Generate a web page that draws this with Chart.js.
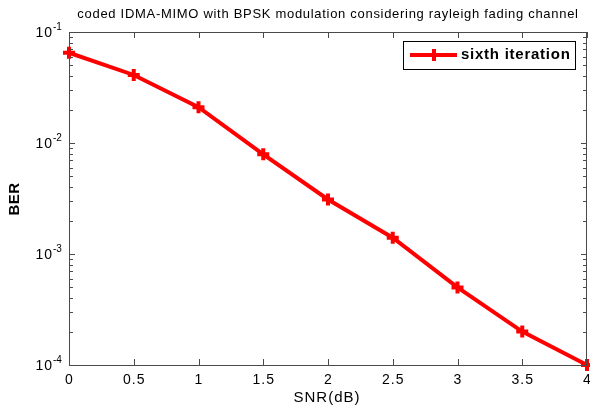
<!DOCTYPE html>
<html>
<head>
<meta charset="utf-8">
<script src="https://cdn.jsdelivr.net/npm/chart.js@4"></script>
<style>
  html, body { margin: 0; padding: 0; background: #fff; overflow: hidden; }
  canvas { display: block; }
</style>
</head>
<body>
<canvas id="berChart" width="590" height="411"></canvas>
<script>
// data
const snrValues = [0, 0.5, 1, 1.5, 2, 2.5, 3, 3.5, 4];
const berSixth = [0.065, 0.041, 0.021, 0.0079, 0.0031, 0.0014, 0.0005, 0.0002, 0.0001];
const xTicks = [0, 0.5, 1, 1.5, 2, 2.5, 3, 3.5, 4];
const xTickLabels = ['0', '0.5', '1', '1.5', '2', '2.5', '3', '3.5', '4'];
const yDecades = [-1, -2, -3, -4];

const TITLE = 'coded IDMA-MIMO with BPSK modulation considering rayleigh fading channel';
const AXIS_COLOR = '#4a4a4a';
const FONT = '"Liberation Sans", Arial, sans-serif';

// box, inward ticks, labels, titles and legend drawn matlab-style
const matlabAxes = {
    id: 'matlabAxes',
    afterDatasetsDraw(chart) {
        const ctx = chart.ctx;
        const area = chart.chartArea;
        const xs = chart.scales.x;
        const ys = chart.scales.y;
        ctx.save();

        // box
        ctx.strokeStyle = AXIS_COLOR;
        ctx.lineWidth = 1;
        ctx.strokeRect(area.left + 0.5, area.top + 0.5, area.right - area.left - 1, area.bottom - area.top);

        // x ticks bottom and top
        ctx.beginPath();
        xTicks.forEach(v => {
            const px = Math.round(xs.getPixelForValue(v)) + 0.5;
            ctx.moveTo(px, area.bottom);
            ctx.lineTo(px, area.bottom - 6);
            ctx.moveTo(px, area.top);
            ctx.lineTo(px, area.top + 6);
        });
        // y ticks left and right (log minors)
        for (let e = -4; e <= -1; e++) {
            for (let m = 1; m <= 9; m++) {
                const v = m * Math.pow(10, e);
                if (v > 0.1 + 1e-12) continue;
                const py = Math.round(ys.getPixelForValue(v)) + 0.5;
                const len = m === 1 ? 6 : 4;
                ctx.moveTo(area.left, py);
                ctx.lineTo(area.left + len, py);
                ctx.moveTo(area.right, py);
                ctx.lineTo(area.right - len, py);
            }
        }
        ctx.stroke();

        ctx.fillStyle = '#000';
        ctx.textBaseline = 'middle';

        // x tick labels
        ctx.font = '14px ' + FONT;
        ctx.letterSpacing = '1px';
        ctx.textAlign = 'center';
        xTicks.forEach((v, i) => {
            ctx.fillText(xTickLabels[i], xs.getPixelForValue(v) + 0.5, area.bottom + 15);
        });

        // y labels 10^n
        yDecades.forEach(e => {
            const py = ys.getPixelForValue(Math.pow(10, e));
            ctx.font = '14px ' + FONT;
            ctx.letterSpacing = '1px';
            ctx.textAlign = 'right';
            ctx.fillText('10', 53, py + 1);
            ctx.font = '10px ' + FONT;
            ctx.letterSpacing = '0px';
            ctx.textAlign = 'left';
            ctx.fillText(String(e), 53, py - 5);
        });

        // titles
        ctx.font = '13px ' + FONT;
        ctx.letterSpacing = '0.7px';
        ctx.textAlign = 'center';
        ctx.fillText(TITLE, 328, 14);

        ctx.font = '15px ' + FONT;
        ctx.letterSpacing = '1px';
        ctx.fillText('SNR(dB)', 327, 398);

        ctx.save();
        ctx.translate(15, 199);
        ctx.rotate(-Math.PI / 2);
        ctx.font = 'bold 15px ' + FONT;
        ctx.letterSpacing = '0.5px';
        ctx.fillText('BER', 0, 0);
        ctx.restore();

        // legend inside the axes
        const bx = 403, by = 41, bw = 172, bh = 28;
        ctx.fillStyle = '#fff';
        ctx.fillRect(bx, by, bw, bh);
        ctx.strokeStyle = '#000';
        ctx.lineWidth = 1;
        ctx.strokeRect(bx + 0.5, by + 0.5, bw, bh);
        const ly = by + bh / 2;
        ctx.strokeStyle = '#ff0000';
        ctx.lineWidth = 4;
        ctx.beginPath();
        ctx.moveTo(410, ly);
        ctx.lineTo(457, ly);
        ctx.moveTo(434, ly - 6);
        ctx.lineTo(434, ly + 6);
        ctx.stroke();
        ctx.fillStyle = '#000';
        ctx.font = 'bold 15px ' + FONT;
        ctx.letterSpacing = '0.75px';
        ctx.textAlign = 'left';
        ctx.fillText('sixth iteration', 461, ly);

        ctx.restore();
    }
};

const points = snrValues.map((x, i) => ({ x: x, y: berSixth[i] }));

new Chart(document.getElementById('berChart'), {
    type: 'line',
    data: {
        datasets: [{
            label: 'sixth iteration',
            data: points,
            borderColor: '#ff0000',
            backgroundColor: '#ff0000',
            borderWidth: 4,
            pointStyle: 'cross',
            pointRadius: 6,
            pointBorderWidth: 4,
            pointHoverRadius: 6,
            tension: 0,
            clip: false
        }]
    },
    options: {
        responsive: false,
        animation: false,
        events: [],
        layout: { autoPadding: false, padding: { top: 32, right: 3, left: 0, bottom: 0 } },
        plugins: {
            legend: { display: false },
            title: { display: false },
            tooltip: { enabled: false }
        },
        scales: {
            x: {
                type: 'linear',
                min: 0,
                max: 4,
                afterFit: axis => { axis.height = 46; },
                grid: { display: false, drawTicks: false },
                border: { display: false },
                ticks: { display: false }
            },
            y: {
                type: 'logarithmic',
                min: 1e-4,
                max: 1e-1,
                afterFit: axis => { axis.width = 69; },
                grid: { display: false, drawTicks: false },
                border: { display: false },
                ticks: { display: false }
            }
        }
    },
    plugins: [matlabAxes]
});
</script>
</body>
</html>
